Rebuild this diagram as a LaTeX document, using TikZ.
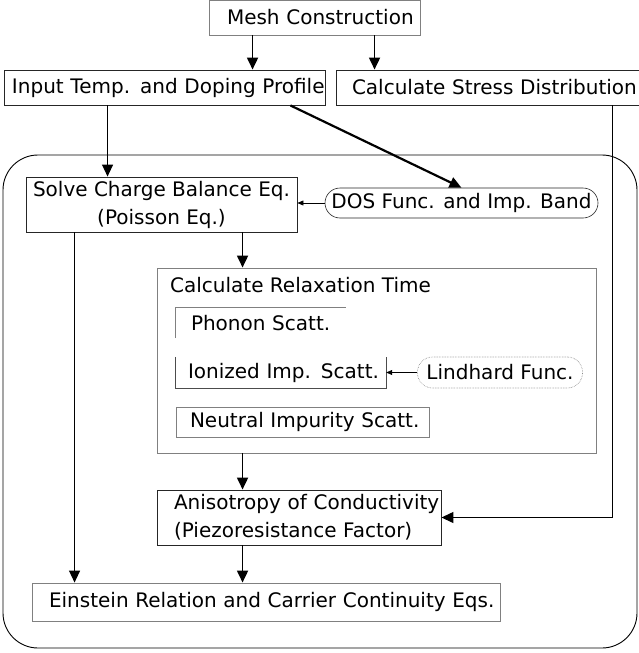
\documentclass[tikz,border=0pt]{standalone}
\usepackage{fontspec}
\setmainfont{DejaVu Sans}
\usetikzlibrary{arrows.meta}

\begin{document}
\begin{tikzpicture}[x=1pt, y=-1pt,
    txt/.style={font=\fontsize{20}{28}\selectfont, inner sep=0pt},
    box/.style={txt, draw=black!85, line width=0.9pt},
    greybox/.style={txt, draw=black!50, line width=0.9pt},
    flow/.style={-{Triangle[length=12pt,width=11pt]}, line width=1.8pt},
    thinflow/.style={-{Triangle[length=6pt,width=5pt]}, line width=0.6pt}]
    \useasboundingbox (0,0) rectangle (638,653);
    % outer loop
    \draw[line width=0.9pt, rounded corners=35pt] (3,155) rectangle (637,648);
    % top row
    \node[greybox, minimum width=211, minimum height=35, text width=175, inner xsep=18, align=left] (mesh) at (314.5,17.5) {\mbox{Mesh Construction}};
    \node[box, minimum width=321, minimum height=35, text width=305, inner xsep=8, align=left] (input) at (164.5,87.5) {\mbox{Input Temp. and Doping Profile}};
    \node[box, minimum width=320, minimum height=35, text width=288, inner xsep=16, align=left] (stress) at (496,87.5) {\mbox{Calculate Stress Distribution}};
    % inside the loop
    \node[box, minimum width=271, minimum height=55, align=center] (solve) at (161.5,204.5) {Solve Charge Balance Eq.\\(Poisson Eq.)};
    \node[box, line width=0.6pt, rounded corners=15pt, minimum width=273, minimum height=30] (dos) at (461.5,203) {DOS Func. and Imp. Band};
    \node[greybox, minimum width=439, minimum height=185] (relax) at (376.5,360.5) {};
    \node[txt, anchor=west] (relaxtitle) at (170,285) {Calculate Relaxation Time};
    \node[txt, minimum width=170, minimum height=30, text width=140, inner xsep=15, align=left] (phonon) at (261,323) {\mbox{Phonon Scatt.}};
    \draw[black!50, line width=0.8pt] (phonon.south west) -- (phonon.north west) -- (phonon.north east);
    \node[txt, minimum width=210, minimum height=31, text width=186, inner xsep=12, align=left] (ionized) at (281,372.5) {\mbox{Ionized Imp. Scatt.}};
    \draw[black!70, line width=0.8pt] (ionized.north west) -- (ionized.south west) -- (ionized.south east) -- (ionized.north east);
    \node[txt, draw=black!50, densely dotted, line width=0.6pt, rounded corners=15pt, minimum width=165, minimum height=31] (lindhard) at (500,372.5) {Lindhard Func.};
    \node[greybox, minimum width=253, minimum height=30, text width=225, inner xsep=14, align=left] (neutral) at (302.5,422) {\mbox{Neutral Impurity Scatt.}};
    \node[box, minimum width=284, minimum height=55, text width=250, inner xsep=17, align=left] (aniso) at (299,517.5) {\mbox{Anisotropy of Conductivity}\\\mbox{(Piezoresistance Factor)}};
    \node[greybox, minimum width=468, minimum height=38, text width=434, inner xsep=17, align=left] (einstein) at (266,602) {\mbox{Einstein Relation and Carrier Continuity Eqs.}};
    % connectors
    \draw[flow] ([xshift=44]mesh.south west) -- ([xshift=44]mesh.south west |- input.north);
    \draw[flow] ([xshift=166]mesh.south west) -- ([xshift=166]mesh.south west |- stress.north);
    \draw[flow, line width=1.3pt] ([xshift=104]input.south west) -- ([xshift=104]input.south west |- solve.north);
    \draw[flow, line width=2.2pt] ([xshift=-35]input.south east) -- (dos.north);
    \draw[thinflow] (dos.west) -- (dos.west -| solve.east);
    \draw[flow] ([xshift=217]solve.south west) -- ([xshift=217]solve.south west |- relax.north);
    \draw[thinflow] (lindhard.west) -- (ionized.east);
    \draw[flow] ([xshift=86]relax.south west) -- ([xshift=86]relax.south west |- aniso.north);
    \draw[flow, line width=1.3pt] ([xshift=277]stress.south west) |- (aniso.east);
    \draw[flow] ([xshift=86]aniso.south west) -- ([xshift=86]aniso.south west |- einstein.north);
    \draw[flow, line width=1.3pt] ([xshift=49]solve.south west) -- ([xshift=49]solve.south west |- einstein.north);
\end{tikzpicture}
\end{document}
